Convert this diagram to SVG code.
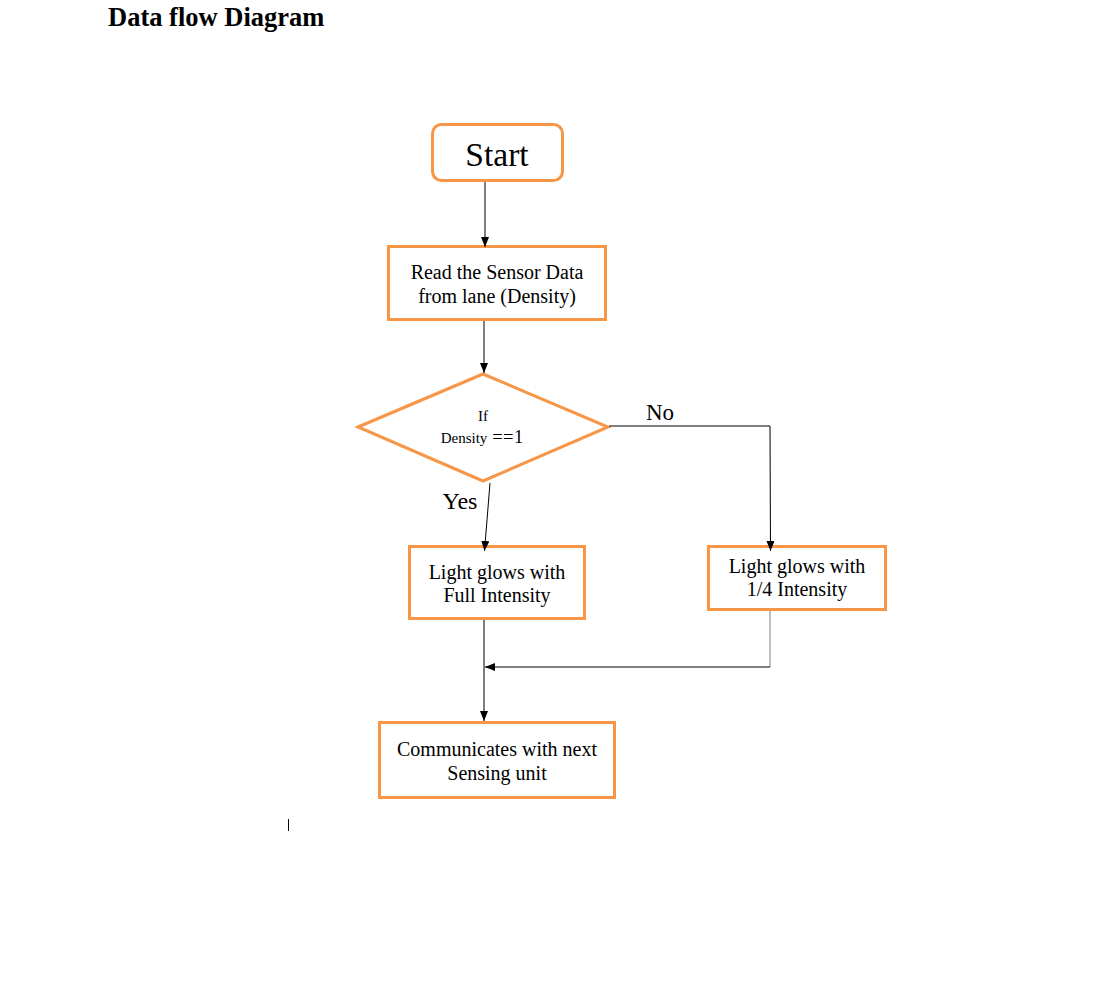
<svg xmlns="http://www.w3.org/2000/svg" width="1112" height="986" viewBox="0 0 1112 986">
<style>
.box{fill:#fff;stroke:#F79646;stroke-width:3}
.t{font-family:"Liberation Serif","Times New Roman",serif;fill:#000;text-anchor:middle}
.c{fill:none;stroke:#000;stroke-width:1}
</style>
<defs>
<marker id="ah" markerWidth="12" markerHeight="10" refX="10" refY="4" orient="auto" markerUnits="userSpaceOnUse">
<path d="M0,0 L10,4 L0,8 Z" fill="#000"/>
</marker>
</defs>
<rect width="1112" height="986" fill="#fff"/>
<text x="108" y="26" font-family="Liberation Serif,serif" font-weight="bold" font-size="26.5">Data flow Diagram</text>

<g id="start">
<rect class="box" x="432.5" y="124.5" width="130" height="56" rx="9"/>
<text x="497" y="166" class="t" font-size="33.5">Start</text>
</g>

<g id="read">
<rect class="box" x="388.5" y="246.5" width="217" height="73"/>
<text x="497" y="279" class="t" font-size="20">Read the Sensor Data</text>
<text x="497" y="303" class="t" font-size="20">from lane (Density)</text>
</g>

<g id="decision">
<polygon class="box" points="358,427 483,374 608,427 483,481"/>
<text x="483" y="421" class="t" font-size="15">If</text>
<text x="464" y="443" class="t" font-size="15">Density</text>
<text x="508" y="443" class="t" font-size="18.5" letter-spacing="0.5">==1</text>
</g>

<g id="full">
<rect class="box" x="409.5" y="546.5" width="175" height="72"/>
<text x="497" y="579" class="t" font-size="20">Light glows with</text>
<text x="497" y="602" class="t" font-size="20">Full Intensity</text>
</g>

<g id="quarter">
<rect class="box" x="708.5" y="546.5" width="177" height="63"/>
<text x="797" y="573" class="t" font-size="20">Light glows with</text>
<text x="797" y="596" class="t" font-size="20">1/4 Intensity</text>
</g>

<g id="communicate">
<rect class="box" x="379.5" y="722.5" width="235" height="75"/>
<text x="497" y="756" class="t" font-size="20">Communicates with next</text>
<text x="497" y="780" class="t" font-size="20">Sensing unit</text>
</g>

<g id="connectors">
<line class="c" x1="485" y1="182" x2="485" y2="247" marker-end="url(#ah)"/>
<line class="c" x1="484" y1="321" x2="484" y2="373" marker-end="url(#ah)"/>
<polyline class="c" points="609,426 770,426 770.5,551" marker-end="url(#ah)"/>
<line class="c" x1="490" y1="483" x2="484.5" y2="551" marker-end="url(#ah)"/>
<line x1="770" y1="611" x2="770" y2="667" stroke="#808080" stroke-width="1"/>
<line class="c" x1="770" y1="667" x2="485" y2="667" marker-end="url(#ah)"/>
<line class="c" x1="484" y1="620" x2="484" y2="721" marker-end="url(#ah)"/>
<text x="660" y="420" class="t" font-size="23">No</text>
<text x="460" y="509" class="t" font-size="24">Yes</text>
</g>

<line x1="288.5" y1="819" x2="288.5" y2="831" stroke="#000" stroke-width="1"/>
</svg>
